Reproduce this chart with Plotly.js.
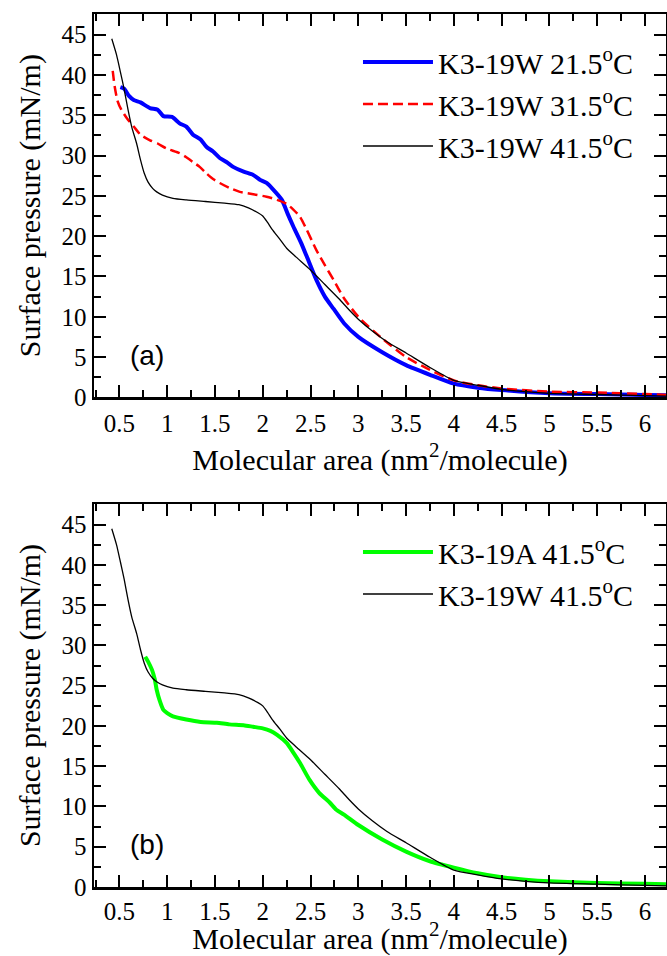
<!DOCTYPE html>
<html>
<head>
<meta charset="utf-8">
<script src="https://cdn.plot.ly/plotly-3.0.1.min.js"></script>
<style>
html,body{margin:0;padding:0;background:#fff;}
#chart{width:667px;height:956px;}
</style>
</head>
<body>
<div id="chart"></div>
<script>
// K3-19W 41.5 °C (used in both panels)
var w415_x = [0.42,0.47,0.51,0.55,0.59,0.63,0.68,0.72,0.76,0.80,0.85,0.89,0.95,1.06,1.2,1.4,1.6,1.75,1.85,1.95,2.0,2.05,2.1,2.18,2.25,2.35,2.5,2.65,2.8,2.9,3.0,3.15,3.3,3.5,3.75,4.0,4.25,4.5,4.75,5.0,5.5,6.0,6.22];
var w415_y = [44.5,42.5,40.4,38.2,35.7,33.5,31.5,29.5,27.8,26.7,25.9,25.5,25.1,24.7,24.5,24.3,24.1,23.9,23.5,22.9,22.5,21.7,20.8,19.6,18.5,17.4,15.8,14.0,12.2,10.9,9.7,8.2,6.9,5.5,3.7,2.1,1.5,1.0,0.7,0.5,0.35,0.2,0.15];

// K3-19W 21.5 °C
var w215_x = [0.51,0.55,0.6,0.65,0.72,0.82,0.9,0.96,1.05,1.13,1.2,1.27,1.35,1.41,1.48,1.55,1.62,1.69,1.8,1.9,1.97,2.04,2.1,2.2,2.26,2.32,2.4,2.46,2.56,2.65,2.74,2.85,3.0,3.25,3.5,3.75,4.0,4.25,4.5,5.0,5.5,6.0,6.22];
var w215_y = [38.5,38.3,37.4,36.9,36.6,35.9,35.7,34.9,34.8,34.0,33.6,32.6,32.0,31.1,30.5,29.7,29.2,28.6,28.0,27.6,27.0,26.6,25.9,24.5,22.8,21.2,19.2,17.5,14.6,12.5,11.0,9.2,7.5,5.6,4.0,2.8,1.7,1.2,0.9,0.5,0.4,0.3,0.25];

// K3-19W 31.5 °C
var w315_x = [0.43,0.45,0.48,0.52,0.58,0.65,0.72,0.82,0.9,0.99,1.13,1.2,1.27,1.34,1.41,1.48,1.55,1.65,1.76,1.9,2.04,2.15,2.25,2.32,2.39,2.46,2.56,2.65,2.74,2.85,3.0,3.25,3.5,3.75,4.0,4.25,4.5,5.0,5.5,6.0,6.22];
var w315_y = [40.5,38.6,36.8,35.7,34.6,33.6,32.6,31.9,31.5,30.9,30.3,29.8,29.2,28.6,27.8,27.1,26.6,26.0,25.5,25.2,24.9,24.5,24.0,23.3,22.4,20.8,18.3,16.4,14.6,12.3,10.0,7.3,5.0,3.4,2.1,1.5,1.1,0.7,0.6,0.4,0.3];

// K3-19A 41.5 °C
var a415_x = [0.77,0.8,0.84,0.87,0.89,0.92,0.96,1.0,1.06,1.2,1.35,1.52,1.65,1.8,1.9,2.0,2.08,2.15,2.25,2.32,2.39,2.49,2.59,2.7,2.77,2.85,3.0,3.25,3.5,3.75,4.0,4.25,4.5,4.75,5.0,5.5,6.0,6.22];
var a415_y = [28.6,28.0,27.0,25.8,24.5,23.2,22.0,21.6,21.2,20.8,20.5,20.4,20.2,20.1,19.9,19.7,19.4,18.9,17.9,16.7,15.4,13.3,11.7,10.5,9.6,9.0,7.7,5.9,4.4,3.2,2.4,1.7,1.2,0.9,0.7,0.5,0.4,0.35];

var names = ['K3-19W 21.5<sup>o</sup>C','K3-19W 31.5<sup>o</sup>C','K3-19W 41.5<sup>o</sup>C','K3-19A 41.5<sup>o</sup>C'];
var xTitle = 'Molecular area (nm<sup>2</sup>/molecule)';
var yTitle = 'Surface pressure (mN/m)';
var panelLabels = ['(a)','(b)'];

var serif = 'Liberation Serif';

var traces = [
  {x:w215_x, y:w215_y, name:names[0], mode:'lines', line:{color:'#0000ff', width:4, shape:'spline', smoothing:0.6}, xaxis:'x', yaxis:'y', legend:'legend'},
  {x:w315_x, y:w315_y, name:names[1], mode:'lines', line:{color:'#ff0000', width:2.5, dash:'10px,5px', shape:'spline', smoothing:0.6}, xaxis:'x', yaxis:'y', legend:'legend'},
  {x:w415_x, y:w415_y, name:names[2], mode:'lines', line:{color:'#000000', width:1.3, shape:'spline', smoothing:0.6}, xaxis:'x', yaxis:'y', legend:'legend'},
  {x:a415_x, y:a415_y, name:names[3], mode:'lines', line:{color:'#00ff00', width:4, shape:'spline', smoothing:0.6}, xaxis:'x2', yaxis:'y2', legend:'legend2'},
  {x:w415_x, y:w415_y, name:names[2], mode:'lines', line:{color:'#000000', width:1.3, shape:'spline', smoothing:0.6}, xaxis:'x2', yaxis:'y2', legend:'legend2'}
];

function xax(anchor, titleStandoff, labelStandoff){
  return {
    anchor: anchor, domain:[0,1], range:[0.234,6.22], tick0:0, dtick:0.5,
    ticks:'inside', ticklen:12, tickwidth:2, tickcolor:'#000',
    minor:{dtick:0.25, ticks:'inside', ticklen:7, tickwidth:2, tickcolor:'#000'},
    mirror:'allticks', showline:true, linewidth:2.5, linecolor:'#000',
    showgrid:false, zeroline:false, ticklabelstandoff:labelStandoff,
    tickfont:{family:serif, size:25, color:'#000'},
    title:{text:xTitle, font:{family:serif, size:30, color:'#000'}, standoff:titleStandoff}
  };
}
function yax(anchor, dom){
  return {
    anchor: anchor, domain:dom, range:[0,47.57], tick0:0, dtick:5,
    ticks:'inside', ticklen:12, tickwidth:2, tickcolor:'#000',
    minor:{dtick:2.5, ticks:'inside', ticklen:7, tickwidth:2, tickcolor:'#000'},
    mirror:'allticks', showline:true, linewidth:2.5, linecolor:'#000',
    showgrid:false, zeroline:false,
    tickfont:{family:serif, size:25, color:'#000'},
    title:{text:yTitle, font:{family:serif, size:30, color:'#000'}, standoff:12}
  };
}

var layout = {
  width:667, height:956,
  margin:{l:94, r:1, t:14, b:69},
  paper_bgcolor:'#fff', plot_bgcolor:'#fff',
  font:{family:serif, size:25, color:'#000'},
  showlegend:true,
  xaxis: xax('y', 13, 2),
  yaxis: yax('x', [0.5609,1]),
  xaxis2: xax('y2', 8, 0),
  yaxis2: yax('x2', [0,0.4387]),
  legend:{x:0.4615, y:0.9748, xanchor:'left', yanchor:'top', bgcolor:'rgba(0,0,0,0)', borderwidth:0,
          font:{family:serif, size:30, color:'#000'}, itemwidth:70, tracegroupgap:0},
  legend2:{x:0.4615, y:0.4135, xanchor:'left', yanchor:'top', bgcolor:'rgba(0,0,0,0)', borderwidth:0,
          font:{family:serif, size:30, color:'#000'}, itemwidth:70, tracegroupgap:0},
  annotations:[
    {xref:'x', yref:'y', x:0.79, y:5.25, text:panelLabels[0], showarrow:false,
     font:{family:'Liberation Sans', size:28, color:'#000'}},
    {xref:'x2', yref:'y2', x:0.79, y:5.25, text:panelLabels[1], showarrow:false,
     font:{family:'Liberation Sans', size:28, color:'#000'}}
  ]
};

Plotly.newPlot('chart', traces, layout, {staticPlot:true, displayModeBar:false});
</script>
</body>
</html>
